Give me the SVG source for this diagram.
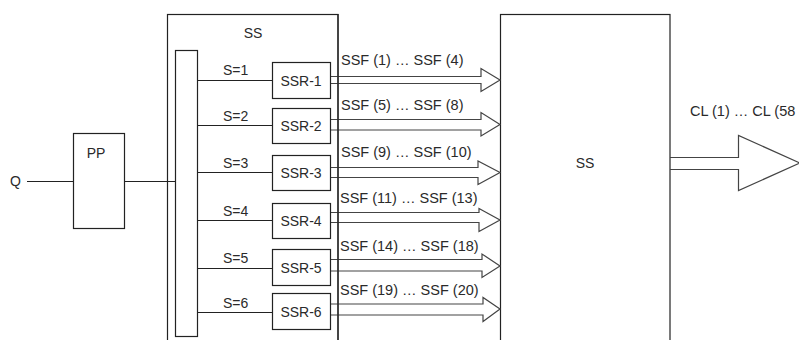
<svg xmlns="http://www.w3.org/2000/svg" width="799" height="340" viewBox="0 0 799 340">
<style>
.b{fill:#fff;stroke:#222;stroke-width:1.2}
.ln{fill:none;stroke:#222;stroke-width:1.2}
.ar{fill:none;stroke:#444;stroke-width:1.2;stroke-linejoin:miter}
text{font-family:"Liberation Sans",Arial,sans-serif;font-size:14px;fill:#2a2a2a}
.f{font-size:14.5px}
.c{text-anchor:middle}
</style>
<rect width="799" height="340" fill="#fff"/>
<g id="ss-left"><rect class="b" x="167.5" y="14.5" width="170.5" height="340"/><text class="c" x="253" y="38">SS</text></g>
<g id="ss-right"><rect class="b" x="500.5" y="14.5" width="169.5" height="340"/><text class="c" x="585" y="168">SS</text></g>
<g id="connectors">
<path class="ln" d="M27,181.5H73.5M124.5,181.5H175.5"/>
<path class="ln" d="M197.5,80.5H272.5M197.5,125.5H272.5M197.5,172.5H272.5M197.5,220.5H272.5M197.5,268.5H272.5M197.5,312.5H272.5"/>
<text x="223" y="75">S=1</text>
<text x="223" y="121">S=2</text>
<text x="223" y="168">S=3</text>
<text x="223" y="216">S=4</text>
<text x="223" y="263">S=5</text>
<text x="223" y="308">S=6</text>
<path class="ar" d="M330,76.5H481V68.5L500,80L481,91.5V83.5H330"/>
<path class="ar" d="M330,119.5H481V112.5L500,124.5L481,136V130H330"/>
<path class="ar" d="M330,167.5H478V161L500,172.5L478,184.5V177.5H330"/>
<path class="ar" d="M330,212.5H479V208.5L500,220L479,231.5V222.5H330"/>
<path class="ar" d="M330,259.5H482V254L500,266L482,277.5V271H330"/>
<path class="ar" d="M330,304H483V297.5L500,309L483,321.5V315H330"/>
<line class="ln" x1="338" y1="14" x2="338" y2="340"/>
<text class="f" x="341" y="65">SSF (1) … SSF (4)</text>
<text class="f" x="341" y="109.5">SSF (5) … SSF (8)</text>
<text class="f" x="341" y="157">SSF (9) … SSF (10)</text>
<text class="f" x="340" y="203">SSF (11) … SSF (13)</text>
<text class="f" x="340" y="251">SSF (14) … SSF (18)</text>
<text class="f" x="340" y="294.5">SSF (19) … SSF (20)</text>
<path class="ar" d="M670,157.5H738.5V135.5L800,163L738.5,190.5V169.5H670"/>
<text class="f" x="690" y="116">CL (1) … CL (58</text>
</g>
<g id="q"><text x="10" y="186">Q</text></g>
<g id="pp"><rect class="b" x="73.5" y="133.5" width="51" height="95"/><text class="c" x="96" y="158">PP</text></g>
<g id="bus"><rect class="b" x="175.5" y="50.5" width="22" height="286"/></g>
<g id="ssr-1"><rect class="b" x="272.5" y="62.5" width="58" height="36"/><text class="c" x="301" y="86">SSR-1</text></g>
<g id="ssr-2"><rect class="b" x="272.5" y="108.5" width="58" height="35"/><text class="c" x="301" y="131">SSR-2</text></g>
<g id="ssr-3"><rect class="b" x="272.5" y="155.5" width="58" height="35"/><text class="c" x="301" y="178">SSR-3</text></g>
<g id="ssr-4"><rect class="b" x="272.5" y="203.5" width="58" height="35"/><text class="c" x="301" y="226">SSR-4</text></g>
<g id="ssr-5"><rect class="b" x="272.5" y="249.5" width="58" height="36"/><text class="c" x="301" y="273">SSR-5</text></g>
<g id="ssr-6"><rect class="b" x="272.5" y="293.5" width="58" height="36"/><text class="c" x="301" y="317">SSR-6</text></g>
</svg>
